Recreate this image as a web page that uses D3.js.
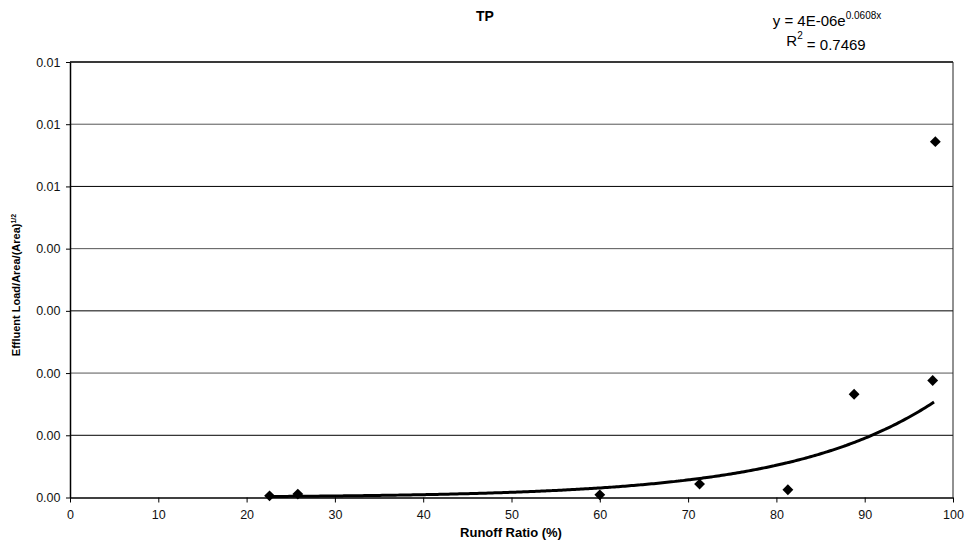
<!DOCTYPE html>
<html>
<head>
<meta charset="utf-8">
<script src="https://cdn.jsdelivr.net/npm/d3@7"></script>
<style>
  body { margin: 0; background: #fff; }
  svg { font-family: "Liberation Sans", Arial, sans-serif; }
</style>
</head>
<body>
<svg id="chart" width="967" height="547"></svg>
<script>
// data
const runoff = [22.6, 25.8, 60.0, 71.3, 81.3, 88.8, 97.7, 98.0];
const load = [0.000027, 0.000055, 0.000043, 0.000215, 0.000124, 0.00166, 0.00188, 0.00572];
const xTicks = [0, 10, 20, 30, 40, 50, 60, 70, 80, 90, 100];
const yTicks = [0, 0.001, 0.002, 0.003, 0.004, 0.005, 0.006, 0.007];
// exponential trendline from the label
const trendA = 4e-6;
const trendB = 0.0608;

const svg = d3.select('#chart');
const mLeft = 70, mRight = 953, mTop = 62, mBottom = 497.5;

const x = d3.scaleLinear().domain([0, 100]).range([mLeft, mRight]);
const y = d3.scaleLinear().domain([0, 0.007]).range([mBottom, mTop]);

// gridlines
svg.append('g')
  .selectAll('line')
  .data(yTicks.slice(1))
  .enter()
  .append('line')
  .attr('x1', mLeft)
  .attr('x2', mRight)
  .attr('y1', (d) => y(d))
  .attr('y2', (d) => y(d))
  .attr('stroke', (d, i) => (i % 2 === 0 ? '#000' : '#555'))
  .attr('stroke-width', 1);

// plot border (top thick, right thin)
svg.append('line')
  .attr('x1', mLeft).attr('x2', mRight).attr('y1', mTop).attr('y2', mTop)
  .attr('stroke', '#222').attr('stroke-width', 1.5);
svg.append('line')
  .attr('x1', mRight).attr('x2', mRight).attr('y1', mTop).attr('y2', mBottom)
  .attr('stroke', '#222').attr('stroke-width', 1);

// axes
const xAxis = svg.append('g')
  .attr('transform', `translate(0,${mBottom})`)
  .call(d3.axisBottom(x).tickValues(xTicks).tickSize(5).tickSizeOuter(0).tickFormat(d3.format('d')));
const yAxis = svg.append('g')
  .attr('transform', `translate(${mLeft},0)`)
  .call(d3.axisLeft(y).tickValues(yTicks).tickSize(4).tickSizeOuter(0).tickFormat((d) => (Math.round(d * 1000) >= 5 ? '0.01' : '0.00')));
[xAxis, yAxis].forEach((a) => {
  a.select('.domain').attr('stroke', '#000').attr('stroke-width', 1.5);
  a.selectAll('.tick line').attr('stroke', '#000');
  a.selectAll('text').attr('font-size', '12.5px').attr('fill', '#111')
    .attr('font-family', '"Liberation Sans", Arial, sans-serif');
});
xAxis.selectAll('text').attr('dy', '1.05em');
yAxis.selectAll('text').attr('dx', '-0.2em');

// trendline
const trendX = d3.range(d3.min(runoff), d3.max(runoff) + 0.01, 0.25);
const line = d3.line()
  .x((d) => x(d))
  .y((d) => y(trendA * Math.exp(trendB * d)))
  .curve(d3.curveBasis);
svg.append('path')
  .datum(trendX)
  .attr('d', line)
  .attr('fill', 'none')
  .attr('stroke', '#000')
  .attr('stroke-width', 3);

// points
const sym = d3.symbol().type(d3.symbolDiamond2).size(75);
svg.append('g')
  .selectAll('path')
  .data(runoff)
  .enter()
  .append('path')
  .attr('d', sym)
  .attr('transform', (d, i) => `translate(${x(d)},${y(load[i])})`)
  .attr('fill', '#000');

// titles
svg.append('text')
  .attr('x', 485).attr('y', 21)
  .attr('text-anchor', 'middle')
  .attr('font-size', '14px').attr('font-weight', 'bold')
  .text('TP');

svg.append('text')
  .attr('x', 511).attr('y', 537)
  .attr('text-anchor', 'middle')
  .attr('font-size', '13px').attr('font-weight', 'bold')
  .text('Runoff Ratio (%)');

const yt = svg.append('text')
  .attr('transform', 'translate(20,285) rotate(-90)')
  .attr('text-anchor', 'middle')
  .attr('font-size', '11px').attr('font-weight', 'bold');
yt.append('tspan').text('Effluent Load/Area/(Area)');
yt.append('tspan').attr('font-size', '7px').attr('dy', '-0.6em').text('1/2');

// equation label
const eq = svg.append('text')
  .attr('x', 827).attr('y', 26)
  .attr('text-anchor', 'middle')
  .attr('font-size', '15px');
eq.append('tspan').text('y = 4E-06e');
eq.append('tspan').attr('font-size', '10px').attr('dy', '-0.7em').text('0.0608x');
const r2 = svg.append('text')
  .attr('x', 826).attr('y', 46)
  .attr('text-anchor', 'middle')
  .attr('font-size', '15px');
r2.append('tspan').text('R');
r2.append('tspan').attr('font-size', '10px').attr('dy', '-0.7em').text('2');
r2.append('tspan').attr('dy', '0.7em').text(' = 0.7469');
</script>
</body>
</html>
